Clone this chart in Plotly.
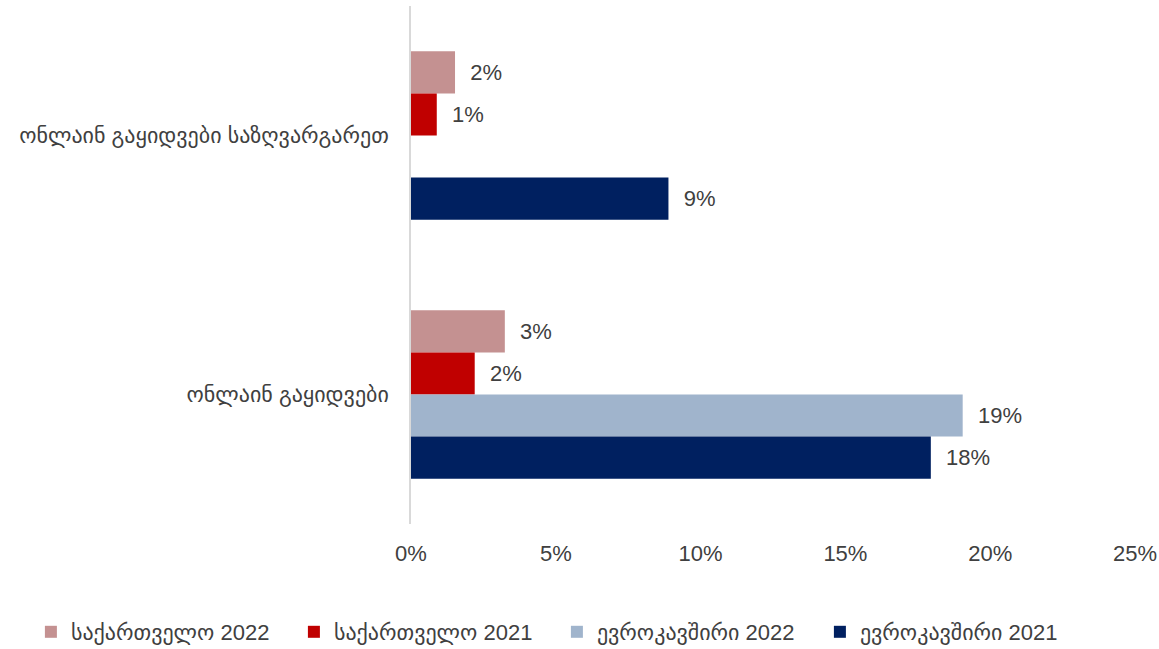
import plotly.graph_objects as go

categories = ["ონლაინ გაყიდვები საზღვარგარეთ", "ონლაინ გაყიდვები"]
series_names = ["საქართველო 2022", "საქართველო 2021", "ევროკავშირი 2022", "ევროკავშირი 2021"]
geo_2022 = [0.0152, 0.0324]
geo_2021 = [0.0089, 0.022]
eu_2022 = [None, 0.1905]
eu_2021 = [0.0889, 0.1795]
colors = ["#C49191", "#C00000", "#A0B4CC", "#002060"]
x_ticks = [0, 0.05, 0.10, 0.15, 0.20, 0.25]

FONT = "Liberation Sans, Arial, DejaVu Sans, sans-serif"
TXT = "#404040"
FS = 22

fig = go.Figure()
for name, vals, col in zip(series_names, [geo_2022, geo_2021, eu_2022, eu_2021], colors):
    fig.add_trace(go.Bar(
        y=categories, x=vals, name=name, orientation="h",
        marker=dict(color=col, line=dict(width=0)),
        texttemplate="\u00a0\u00a0%{x:.0%}", textposition="outside",
        textfont=dict(family=FONT, size=FS, color=TXT),
        cliponaxis=False, hoverinfo="x+name",
    ))

fig.update_layout(
    width=1159, height=649,
    margin=dict(l=411, r=24, t=6, b=125, autoexpand=False),
    barmode="group", bargap=0.35, bargroupgap=0,
    plot_bgcolor="white", paper_bgcolor="white",
    font=dict(family=FONT, size=FS, color=TXT),
    xaxis=dict(range=[0, 0.25], tickvals=x_ticks, tickformat=".0%",
               showgrid=False, zeroline=False, showline=False,
               ticks="", ticklabelstandoff=14, automargin=False,
               tickfont=dict(family=FONT, size=FS, color=TXT)),
    yaxis=dict(autorange="reversed", showgrid=False, showline=True,
               linecolor="#D9D9D9", linewidth=1.5, ticks="",
               ticklabelstandoff=16, automargin=False,
               tickfont=dict(family=FONT, size=FS, color=TXT)),
    legend=dict(orientation="h", x=-0.525, xanchor="left",
                y=-0.2085, yanchor="middle",
                font=dict(family=FONT, size=FS, color=TXT),
                itemwidth=30, entrywidth=218, traceorder="normal"),
    showlegend=True,
)

fig.write_html("out.html", config={"displayModeBar": False},
               post_script="document.body.style.margin='0';document.body.style.overflow='hidden';")
